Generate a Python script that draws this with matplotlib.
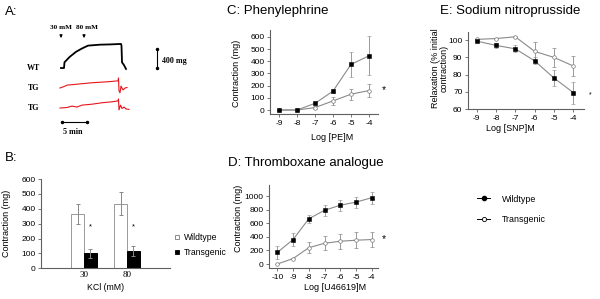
import matplotlib
matplotlib.use("Agg")
import matplotlib.pyplot as plt
from matplotlib.lines import Line2D
import numpy as np

plt.rcParams['font.family'] = ['Liberation Sans', 'DejaVu Sans']
plt.rcParams['axes.unicode_minus'] = False

# ---------------- data ----------------
# Panel A traces (time in min, tension in mg), key points
wt_t = [-0.2, 0.4, 0.5, 1.5, 2.8, 4.0, 5.2, 7.6, 9.5, 11.8, 11.9, 12.0, 12.4, 12.8]
wt_v = [0, 0, 120, 230, 340, 410, 470, 490, 495, 505, 470, 120, 60, -20]
tg1_t = [-0.4, 0.4, 1.0, 3.0, 6.0, 9.0, 11.2, 11.3, 11.4, 11.6, 11.8, 12.2, 12.6, 13.0]
tg1_v = [0, 30, 60, 80, 110, 130, 150, 210, -60, -100, 40, -40, 0, 10]
tg2_t = [-0.4, 1.0, 2.0, 3.0, 4.0, 6.0, 8.0, 10.0, 11.2, 11.3, 11.4, 11.7, 12.0, 12.4, 12.8, 13.4]
tg2_v = [0, 10, 40, 20, 60, 80, 110, 130, 150, 190, -40, 60, -10, 20, -20, -30]
trace_offsets = [0, -420, -840]
trace_labels = ["WT", "TG", "TG"]

# Panel B
kcl_labels = ["30", "80"]
kcl_wt = [365, 435]
kcl_wt_err = [70, 80]
kcl_tg = [100, 115]
kcl_tg_err = [30, 33]

# Panel C: Phenylephrine
pe_x = [-9, -8, -7, -6, -5, -4]
pe_wt = [0, 0, 55, 155, 375, 445]
pe_wt_err = [3, 3, 12, 15, 100, 160]
pe_tg = [0, 0, 20, 75, 130, 160]
pe_tg_err = [3, 3, 10, 30, 45, 50]

# Panel D: Thromboxane analogue
u_x = [-10, -9, -8, -7, -6, -5, -4]
u_wt = [170, 360, 665, 790, 865, 910, 975]
u_wt_err = [90, 90, 60, 80, 80, 80, 90]
u_tg = [0, 80, 240, 305, 335, 350, 360]
u_tg_err = [5, 10, 85, 100, 110, 115, 115]

# Panel E: Sodium nitroprusside
snp_x = [-9, -8, -7, -6, -5, -4]
snp_wt = [99.5, 97, 95, 88, 78, 69.5]
snp_wt_err = [0.5, 1.5, 2, 2, 4.5, 6.5]
snp_tg = [100.5, 101, 102, 93.5, 90, 85]
snp_tg_err = [0.3, 0.3, 0.3, 5.5, 5.5, 6]

W, H = 600, 299
fig = plt.figure(figsize=(6, 2.99), dpi=100)

def ax_px(l, r, t, b):
    return fig.add_axes([l / W, 1 - b / H, (r - l) / W, (b - t) / H])

SP = '#606060'
TICK = 6.0
LAB = 6.5
TITLE = 9.5

def style(ax):
    for s in ['top', 'right']:
        ax.spines[s].set_visible(False)
    for s in ['left', 'bottom']:
        ax.spines[s].set_color(SP)
        ax.spines[s].set_linewidth(0.8)
    ax.tick_params(labelsize=TICK, length=2, width=0.6, color=SP, pad=2)

# ---------------- Panel A ----------------
axA = ax_px(0, 200, 0, 150)
axA.set_xlim(-12.4, 27.6)
axA.set_ylim(-1722, 1428)
axA.axis('off')
axA.plot(wt_t, np.array(wt_v) + trace_offsets[0], color='black', lw=1.3)
axA.plot(tg1_t, np.array(tg1_v) + trace_offsets[1], color='#e8141c', lw=0.8)
axA.plot(tg2_t, np.array(tg2_v) + trace_offsets[2], color='#e8141c', lw=0.8)
AF = dict(fontsize=5.8, fontweight='bold', family=['Liberation Serif'])
for off, lab in zip(trace_offsets, trace_labels):
    axA.text(-5.6, off, lab, ha='center', va='center', **AF)
# stimulus arrows
for tt, lab in [(-0.2, "30 mM"), (4.4, "80 mM")]:
    axA.annotate('', xy=(tt, 570), xytext=(tt, 760),
                 arrowprops=dict(arrowstyle='-|>', lw=0.7, color='black', mutation_scale=4))
    axA.text(tt + (0.0 if tt < 0 else 0.6), 850, lab, ha='center', va='center',
             fontsize=5.2, fontweight='bold', family=['Liberation Serif'])
# scale bars
axA.plot([19.0, 19.0], [0, 400], color='black', lw=0.8, marker='o', ms=1.5)
axA.text(20.0, 150, "400 mg", va='center', **AF)
axA.plot([0, 5], [-1134, -1134], color='black', lw=0.8, marker='o', ms=1.5)
axA.text(2.2, -1344, "5 min", ha='center', va='center', **AF)
fig.text(5 / W, 1 - 12 / H, "A:", fontsize=TITLE, va='center')

# ---------------- Panel B ----------------
axB = ax_px(41, 170, 179, 268.3)
style(axB)
pos = np.array([1, 2])
bw = 0.30
axB.bar(pos - bw / 2, kcl_wt, bw, yerr=kcl_wt_err, color='white', edgecolor='#999999',
        lw=0.7, error_kw=dict(ecolor='#888888', elinewidth=0.7, capsize=1.5, capthick=0.7))
axB.bar(pos + bw / 2, kcl_tg, bw, yerr=kcl_tg_err, color='black', edgecolor='black',
        lw=0.7, error_kw=dict(ecolor='#888888', elinewidth=0.7, capsize=1.5, capthick=0.7))
for p in pos:
    axB.text(p + bw / 2, 280, "*", fontsize=5.5, ha='center', va='center')
axB.set_xlim(0, 3)
axB.set_ylim(0, 600)
axB.set_yticks(range(0, 601, 100))
axB.set_xticks(pos)
axB.set_xticklabels(kcl_labels, family=['Liberation Serif'], fontsize=6.5)
axB.tick_params(axis='x', length=0)
axB.set_xlabel("KCl (mM)", fontsize=6.3)
axB.xaxis.set_label_coords(0.5, -0.165)
axB.set_ylabel("Contraction (mg)", fontsize=LAB)
axB.yaxis.set_label_coords(-0.233, 0.5)
hB = [Line2D([], [], ls='none', marker='s', ms=3, mfc='white', mec='#777777', mew=0.6),
      Line2D([], [], ls='none', marker='s', ms=3, mfc='black', mec='black', mew=0.6)]
fig.legend(hB, ["Wildtype", "Transgenic"], loc='upper left',
           bbox_to_anchor=(174 / W, 1 - 233.5 / H), frameon=False, fontsize=6.2,
           handlelength=0.7, handletextpad=0.4, labelspacing=0.6, borderpad=0,
           borderaxespad=0)
fig.text(5 / W, 1 - 158 / H, "B:", fontsize=TITLE, va='center')

# ---------------- line panels ----------------
LC = '#8a8a8a'

def curves(ax, x, wt, wte, tg, tge):
    ax.errorbar(x, tg, yerr=tge, color=LC, lw=0.8, elinewidth=0.6, capsize=1.2,
                capthick=0.6, marker='o', ms=2.6, mfc='white', mec='#777777', mew=0.5,
                zorder=3)
    ax.errorbar(x, wt, yerr=wte, color=LC, lw=0.8, elinewidth=0.6, capsize=1.2,
                capthick=0.6, marker='s', ms=2.2, mfc='black', mec='black', mew=0.4,
                ecolor=LC, zorder=4)

# C
axC = ax_px(270, 378, 30, 114.3)
style(axC)
curves(axC, pe_x, pe_wt, pe_wt_err, pe_tg, pe_tg_err)
axC.set_xlim(-9.5, -3.5)
axC.set_ylim(-35, 657)
axC.set_xticks(pe_x)
axC.set_yticks(range(0, 601, 100))
axC.set_xlabel("Log [PE]M", fontsize=LAB)
axC.xaxis.set_label_coords(0.574, -0.222)
axC.set_ylabel("Contraction (mg)", fontsize=LAB)
axC.yaxis.set_label_coords(-0.27, 0.48)
axC.text(-3.17, 160, "*", fontsize=7.5, ha='center', va='center', clip_on=False)
fig.text(227 / W, 1 - 11 / H, "C: Phenylephrine", fontsize=TITLE, va='center')

# D
axD = ax_px(269, 378, 185, 268.3)
style(axD)
curves(axD, u_x, u_wt, u_wt_err, u_tg, u_tg_err)
axD.set_xlim(-10.53, -3.6)
axD.set_ylim(-63, 1162)
axD.set_xticks(u_x)
axD.set_yticks(range(0, 1001, 200))
axD.set_xlabel("Log [U46619]M", fontsize=LAB)
axD.xaxis.set_label_coords(0.603, -0.176)
axD.set_ylabel("Contraction (mg)", fontsize=LAB)
axD.yaxis.set_label_coords(-0.24, 0.60)
axD.text(-3.22, 360, "*", fontsize=7.5, ha='center', va='center', clip_on=False)
fig.text(228 / W, 1 - 163 / H, "D: Thromboxane analogue", fontsize=TITLE, va='center')

# E
axE = ax_px(468, 584, 32, 109)
style(axE)
curves(axE, snp_x, snp_wt, snp_wt_err, snp_tg, snp_tg_err)
axE.set_xlim(-9.45, -3.45)
axE.set_ylim(60, 104.8)
axE.set_xticks(snp_x)
axE.set_yticks(range(60, 101, 10))
axE.set_xlabel("Log [SNP]M", fontsize=LAB)
axE.xaxis.set_label_coords(0.367, -0.195)
axE.set_ylabel("Relaxation (% initial\ncontraction)", fontsize=LAB, linespacing=0.95)
axE.yaxis.set_label_coords(-0.17, 0.53)
axE.text(-3.14, 68.5, "*", fontsize=5, ha='center', va='center', clip_on=False)
fig.text(440 / W, 1 - 11 / H, "E: Sodium nitroprusside", fontsize=TITLE, va='center')

# common legend
hL = [Line2D([], [], color='black', lw=0.7, marker='o', ms=3, mfc='black', mec='black'),
      Line2D([], [], color='black', lw=0.7, marker='o', ms=3, mfc='white', mec='black', mew=0.6)]
fig.legend(hL, ["Wildtype", "Transgenic"], loc='upper left',
           bbox_to_anchor=(477 / W, 1 - 194.5 / H), frameon=False, fontsize=6.4,
           handlelength=1.5, handletextpad=1.3, labelspacing=1.3, borderpad=0,
           borderaxespad=0)

fig.savefig("out.png", dpi=100)
